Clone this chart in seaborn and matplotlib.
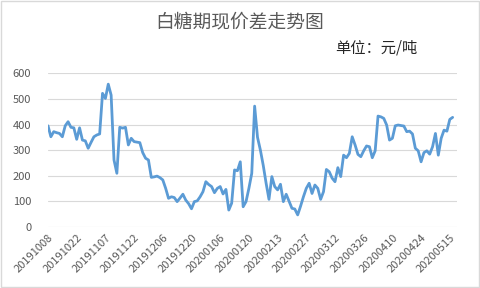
import matplotlib
matplotlib.use("Agg")
import matplotlib.pyplot as plt
import seaborn as sns
import pandas as pd

# ---- data ----
spread = [
    395, 352, 372, 368, 365, 352, 395, 411, 389, 387,
    342, 387, 339, 336, 307, 330, 352, 359, 363, 522,
    502, 558, 515, 261, 209, 389, 386, 389, 320, 346,
    333, 331, 329, 290, 268, 261, 193, 195, 198, 192,
    183, 150, 111, 117, 114, 98, 112, 127, 104, 90,
    70, 98, 101, 117, 137, 176, 165, 157, 133, 150,
    157, 128, 146, 65, 92, 222, 219, 254, 78, 98,
    150, 209, 472, 350, 300, 240, 170, 107, 196, 157,
    144, 166, 98, 127, 100, 72, 69, 46, 80, 117,
    150, 170, 130, 163, 150, 107, 137, 224, 215, 190,
    176, 231, 196, 280, 270, 287, 352, 320, 283, 274,
    297, 316, 313, 270, 297, 433, 430, 424, 398, 339,
    346, 395, 398, 396, 394, 372, 374, 363, 307, 297,
    254, 290, 297, 284, 313, 365, 280, 346, 378, 374,
    420, 428,
]
x_labels = [
    "20191008", "20191022", "20191107", "20191122", "20191206",
    "20191220", "20200106", "20200120", "20200213", "20200227",
    "20200312", "20200326", "20200410", "20200424", "20200515",
]
y_ticks = [0, 100, 200, 300, 400, 500, 600]
title = "白糖期现价差走势图"
unit = "单位：元/吨"

df = pd.DataFrame({"idx": range(len(spread)), "spread": spread})

sns.set_theme(style="white")
plt.rcParams["font.family"] = ["Noto Sans CJK SC", "DejaVu Sans"]

fig = plt.figure(figsize=(4.8, 2.88), dpi=100)
ax = fig.add_axes([0.1, 0.213, 0.852, 0.532])

sns.lineplot(data=df, x="idx", y="spread", ax=ax, color="#5B9BD5", linewidth=2.0)

ax.set_xlim(0, len(spread) - 1 + 1.5)
ax.set_ylim(0, 600)
ax.set_yticks(y_ticks)
ax.set_yticklabels([str(v) for v in y_ticks], color="#595959", fontsize=8)
ax.set_xticks(list(range(0, 10 * len(x_labels), 10)))
ax.set_xticklabels(x_labels, rotation=45, ha="right", rotation_mode="anchor",
                   color="#595959", fontsize=8)
ax.tick_params(axis="both", length=0)
ax.tick_params(axis="y", pad=12)
ax.tick_params(axis="x", pad=4)
ax.set_xlabel("")
ax.set_ylabel("")
ax.grid(axis="y", color="#D9D9D9", linewidth=0.8)
ax.grid(axis="x", visible=False)
for s in ax.spines.values():
    s.set_visible(False)

fig.text(0.5, 0.925, title, ha="center", va="center", fontsize=13.5, color="#595959")
fig.text(0.698, 0.835, unit, ha="left", va="center", fontsize=11, color="#262626")

# chart-area border
fig.patches.append(plt.Rectangle((0.003, 0.004), 0.994, 0.992, transform=fig.transFigure,
                                 fill=False, edgecolor="#D9D9D9", linewidth=1.0))

fig.savefig("out.png", dpi=100)
